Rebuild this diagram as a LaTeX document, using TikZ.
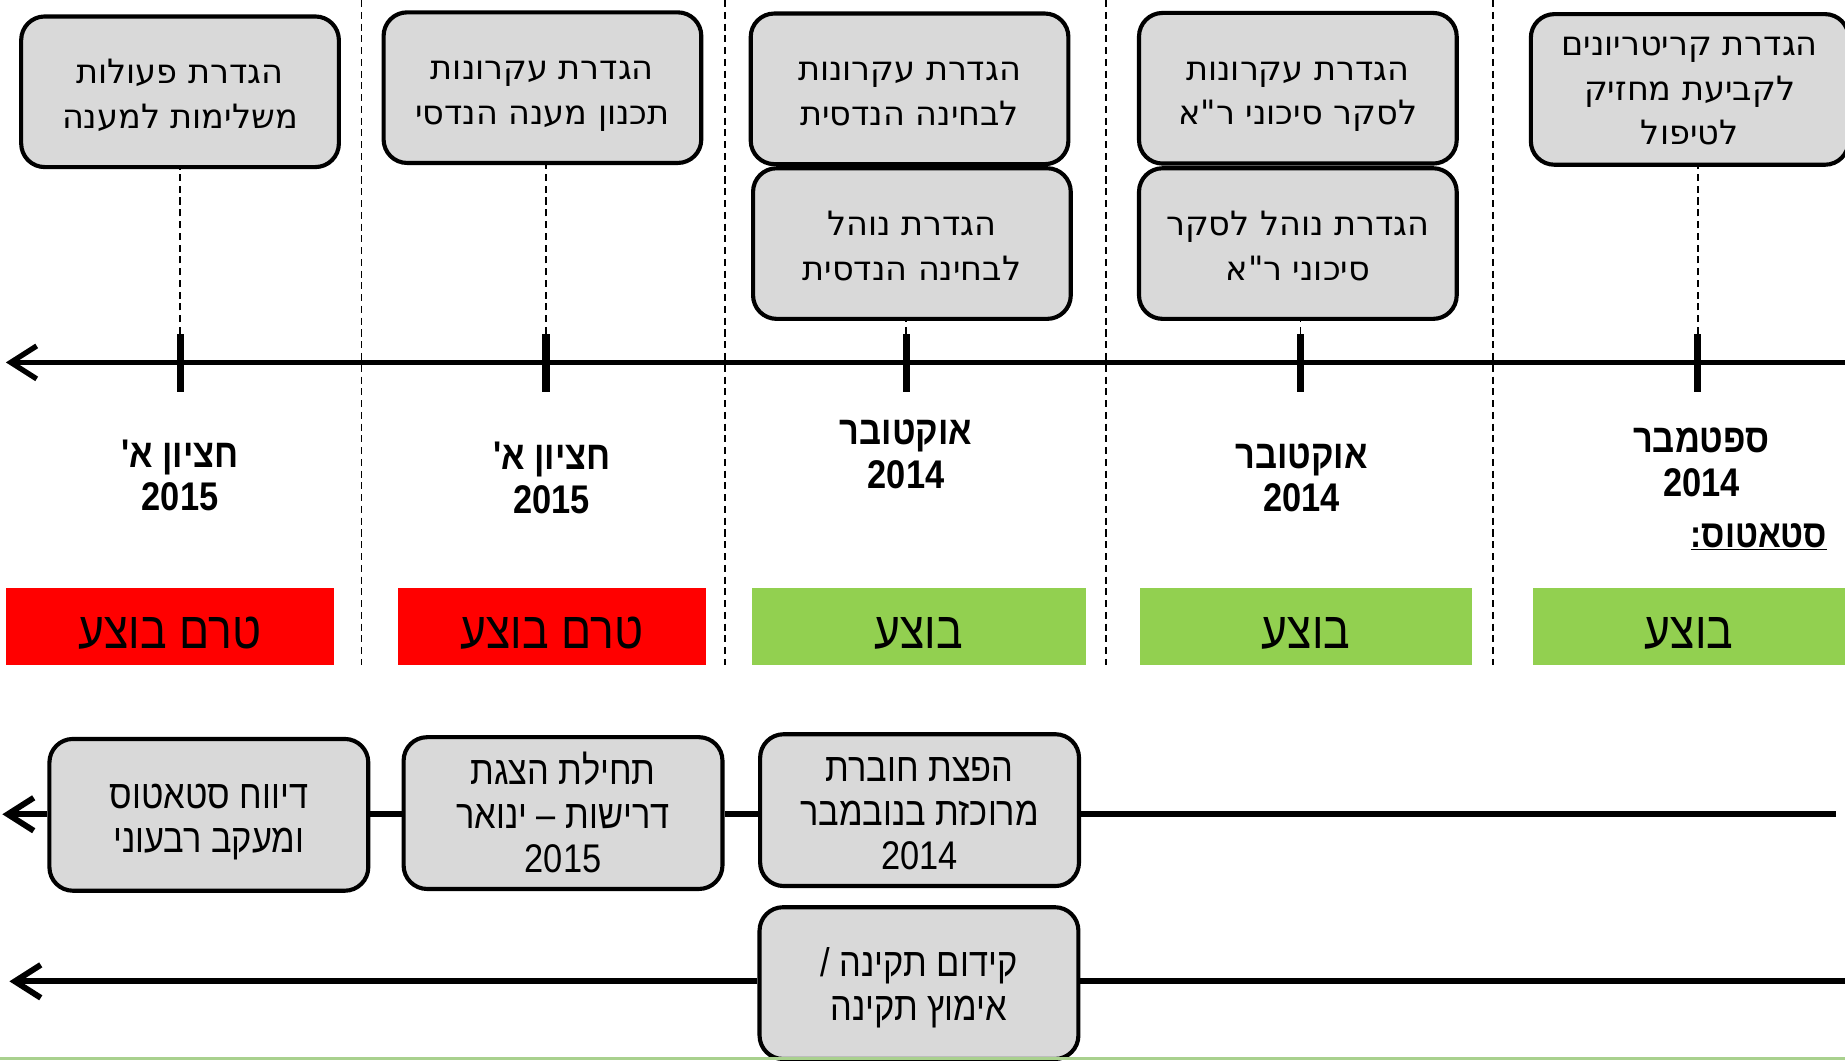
\documentclass[tikz,border=0pt]{standalone}
\usepackage{fontspec}
\usetikzlibrary{arrows.meta}
\TeXXeTstate=1
\newfontfamily\hebdv[Script=Hebrew]{DejaVu Sans}
\newfontfamily\hebar[Script=Hebrew,FakeStretch=0.86]{Liberation Sans}
\newcommand\hb[1]{\beginR #1\endR}
\newcommand\tline[1]{\hb{\rule[-8pt]{0pt}{40pt}#1}}
\newcommand\sline[1]{\hb{\rule[-8pt]{0pt}{34pt}#1}}
\newcommand\bline[1]{\hb{\rule[-8pt]{0pt}{42pt}#1}}
\newcommand\nolsl{\lineskiplimit -100pt\relax}
\definecolor{boxgray}{HTML}{D9D9D9}
\definecolor{stred}{HTML}{FF0000}
\definecolor{stgreen}{HTML}{92D050}
\definecolor{lightgreen}{HTML}{A9D18E}
\begin{document}
\begin{tikzpicture}[x=1pt,y=-1pt,
  topbox/.style={draw=black, line width=3.5pt, fill=boxgray, rounded corners=20pt,
    minimum width=270pt, minimum height=128pt, align=center, inner sep=0pt,
    font={\hebdv\fontsize{28.5}{38}\selectfont\nolsl}},
  botbox/.style={draw=black, line width=3.5pt, fill=boxgray, rounded corners=20pt,
    minimum width=271pt, minimum height=129pt, align=center, inner sep=0pt,
    font={\hebar\fontsize{34}{37.5}\selectfont\nolsl}},
  statbar/.style={minimum height=65pt, inner sep=0pt, text height=38pt, text depth=0pt,
    font=\hebar\fontsize{44}{46}\selectfont},
  datelbl/.style={align=center, inner sep=0pt, font=\hebar\bfseries\fontsize{34}{37}\selectfont},
  tickmark/.style={fill=black, minimum width=6pt, minimum height=49pt, inner sep=0pt},
  sepline/.style={line width=1.2pt, dash pattern=on 6pt off 4pt},
  conline/.style={line width=1.2pt, dash pattern=on 6pt off 4pt},
  axis/.style={line width=4.5pt, -{Straight Barb[length=22pt,width=28pt]}},
  rowline/.style={line width=5pt},
]
\useasboundingbox (0,0) rectangle (1568,901);
\clip (0,0) rectangle (1568,901);

% separators
\foreach \sx in {307,616,940,1269} \draw[sepline] (\sx,0) -- (\sx,565);

% main axis
\coordinate (axR) at (1568,308);
\coordinate (axL) at (5,308);
\draw[axis] (axR) -- (axL);

% ticks
\node[tickmark] (t1) at (153,308.5) {};
\node[tickmark] (t2) at (464,308.5) {};
\node[tickmark] (t3) at (770,308.5) {};
\node[tickmark] (t4) at (1105,308.5) {};
\node[tickmark] (t5) at (1443,308.5) {};

% top boxes
\node[topbox] (b1) at (153,78) {\tline{הגדרת פעולות}\\\tline{משלימות למענה}};
\node[topbox] (b2) at (461,74.5) {\tline{הגדרת עקרונות}\\\tline{תכנון מענה הנדסי}};
\node[topbox] (b3) at (773,75.5) {\tline{הגדרת עקרונות}\\\tline{לבחינה הנדסית}};
\node[topbox] (b4) at (775,207) {\tline{הגדרת נוהל}\\\tline{לבחינה הנדסית}};
\node[topbox] (b5) at (1103,75) {\tline{הגדרת עקרונות}\\\tline{לסקר סיכוני ר"א}};
\node[topbox] (b6) at (1103,207) {\tline{הגדרת נוהל לסקר}\\\tline{סיכוני ר"א}};
\node[topbox, font={\hebdv\fontsize{28.5}{37.5}\selectfont\nolsl}] (b7) at (1436,76) {\sline{הגדרת קריטריונים}\\\sline{לקביעת מחזיק}\\\sline{לטיפול}};

% dashed connectors box -> tick
\draw[conline] (t1.north) -- (t1.north |- b1.south);
\draw[conline] (t2.north) -- (t2.north |- b2.south);
\draw[conline] (t3.north) -- (t3.north |- b4.south);
\draw[conline] (t4.north) -- (t4.north |- b6.south);
\draw[conline] (t5.north) -- (t5.north |- b7.south);

% date labels
\node[datelbl] (d1) at (153,404) {\hb{חציון א'}\\2015};
\node[datelbl] (d2) at (469,406) {\hb{חציון א'}\\2015};
\node[datelbl] (d3) at (770,386) {\hb{אוקטובר}\\2014};
\node[datelbl] (d4) at (1106,406) {\hb{אוקטובר}\\2014};
\node[datelbl] (d5) at (1446,393) {\hb{ספטמבר}\\2014};
\node[inner sep=0pt, anchor=east, font=\hebar\bfseries\fontsize{33}{35}\selectfont] (stat) at (1553,456) {\underline{\hb{סטאטוס:}}};

% status bars
\node[statbar, fill=stred, minimum width=279pt] (s1) at (144.5,532.5) {\hb{טרם בוצע}};
\node[statbar, fill=stred, minimum width=262pt] (s2) at (469,532.5) {\hb{טרם בוצע}};
\node[statbar, fill=stgreen, minimum width=284pt] (s3) at (781,532.5) {\hb{בוצע}};
\node[statbar, fill=stgreen, minimum width=282pt] (s4) at (1110,532.5) {\hb{בוצע}};
\node[statbar, fill=stgreen, minimum width=265pt] (s5) at (1435.5,532.5) {\hb{בוצע}};

% bottom row 1
\coordinate (r1R) at (1560,692);
\coordinate (r1L) at (2,692);
\node[botbox] (bA) at (177.5,692.5) {\bline{דיווח סטאטוס}\\\bline{ומעקב רבעוני}};
\node[botbox] (bB) at (478.5,691) {\bline{תחילת הצגת}\\\bline{דרישות – ינואר}\\\bline{2015}};
\node[botbox] (bC) at (781.5,688.5) {\bline{הפצת חוברת}\\\bline{מרוכזת בנובמבר}\\\bline{2014}};
\draw[rowline] (r1R) -- (bC.east |- r1R);
\draw[rowline] (bC.west |- r1R) -- (bB.east |- r1R);
\draw[rowline] (bB.west |- r1R) -- (bA.east |- r1R);
\draw[rowline, -{Straight Barb[length=22pt,width=28pt]}] (bA.west |- r1R) -- (r1L);

% bottom row 2
\coordinate (r2R) at (1568,834);
\coordinate (r2L) at (8,834);
\node[botbox] (bD) at (781,835.5) {\bline{קידום תקינה /}\\\bline{אימוץ תקינה}};
\draw[rowline] (r2R) -- (bD.east |- r2R);
\draw[rowline, -{Straight Barb[length=22pt,width=28pt]}] (bD.west |- r2R) -- (r2L);

% bottom green line
\draw[lightgreen, line width=2.5pt] (0,899.5) -- (1568,899.5);
\end{tikzpicture}
\end{document}
